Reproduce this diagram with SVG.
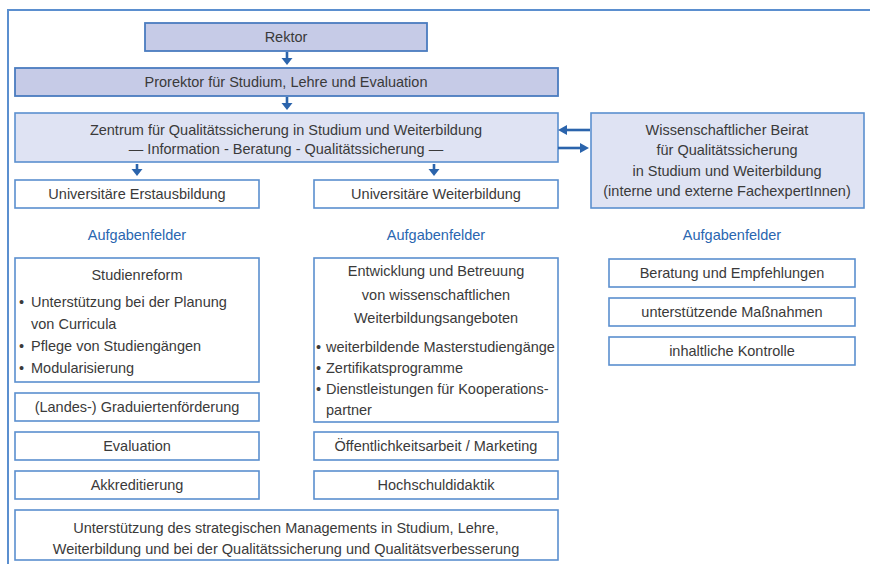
<svg xmlns="http://www.w3.org/2000/svg" width="870" height="564" viewBox="0 0 870 564">
<defs>
<style>
text{font-family:"Liberation Sans",Arial,sans-serif;font-size:14.5px;fill:#3a3a3a}
.c{text-anchor:middle}
.h{fill:#2a66b0}
.box{fill:#fff;stroke:#5b8fcf;stroke-width:1.6}
.b1{fill:#c6cbe7;stroke:#4a7cbf;stroke-width:1.8}
.b2{fill:#dfe3f3;stroke:#5b8fcf;stroke-width:1.6}
.ln{stroke:#2b64ac;stroke-width:2.6;fill:none}
.hd{fill:#2b64ac}
</style>
</defs>
<rect width="870" height="564" fill="#fff"/>
<path d="M8,564 V10 H870" fill="none" stroke="#5b8fcf" stroke-width="2"/>

<g id="rektor"><rect class="b1" x="145" y="23" width="282" height="28"/><text class="c" x="286" y="42">Rektor</text></g>
<g id="prorektor"><rect class="b1" x="15" y="68" width="543" height="28"/><text class="c" x="286" y="87">Prorektor für Studium, Lehre und Evaluation</text></g>
<g id="zentrum"><rect class="b2" x="15" y="113" width="543" height="49"/><text class="c" x="286" y="135">Zentrum für Qualitätssicherung in Studium und Weiterbildung</text><text class="c" x="286" y="154">— Information - Beratung - Qualitätssicherung —</text></g>
<g id="beirat"><rect class="b2" x="591" y="113" width="273" height="95"/>
<text class="c" x="727" y="135">Wissenschaftlicher Beirat</text>
<text class="c" x="727" y="155">für Qualitätssicherung</text>
<text class="c" x="727" y="176">in Studium und Weiterbildung</text>
<text class="c" x="727" y="196">(interne und externe FachexpertInnen)</text></g>

<g id="erstausbildung"><rect class="box" x="15" y="180" width="244" height="28"/><text class="c" x="137" y="199">Universitäre Erstausbildung</text></g>
<g id="weiterbildung"><rect class="box" x="314" y="180" width="244" height="28"/><text class="c" x="436" y="199">Universitäre Weiterbildung</text></g>

<g id="aufgaben-labels">
<text class="c h" x="137" y="240">Aufgabenfelder</text>
<text class="c h" x="436" y="240">Aufgabenfelder</text>
<text class="c h" x="732" y="240">Aufgabenfelder</text>
</g>

<g id="studienreform"><rect class="box" x="15" y="258" width="244" height="124"/>
<text class="c" x="137" y="280">Studienreform</text>
<text x="19" y="307">•</text><text x="31" y="307">Unterstützung bei der Planung</text>
<text x="31" y="329">von Curricula</text>
<text x="19" y="351">•</text><text x="31" y="351">Pflege von Studiengängen</text>
<text x="19" y="373">•</text><text x="31" y="373">Modularisierung</text></g>
<g id="graduierten"><rect class="box" x="15" y="393" width="244" height="28"/><text class="c" x="137" y="412">(Landes-) Graduiertenförderung</text></g>
<g id="evaluation"><rect class="box" x="15" y="432" width="244" height="28"/><text class="c" x="137" y="451">Evaluation</text></g>
<g id="akkreditierung"><rect class="box" x="15" y="471" width="244" height="28"/><text class="c" x="137" y="490">Akkreditierung</text></g>

<g id="entwicklung"><rect class="box" x="314" y="258" width="244" height="164"/>
<text class="c" x="436" y="276">Entwicklung und Betreuung</text>
<text class="c" x="436" y="300">von wissenschaftlichen</text>
<text class="c" x="436" y="323">Weiterbildungsangeboten</text>
<text x="316" y="352">•</text><text x="326" y="352">weiterbildende Masterstudiengänge</text>
<text x="316" y="373">•</text><text x="326" y="373">Zertifikatsprogramme</text>
<text x="316" y="394">•</text><text x="326" y="394">Dienstleistungen für Kooperations-</text>
<text x="326" y="415">partner</text></g>
<g id="oeffentlichkeit"><rect class="box" x="314" y="432" width="244" height="28"/><text class="c" x="436" y="451">Öffentlichkeitsarbeit / Marketing</text></g>
<g id="hochschuldidaktik"><rect class="box" x="314" y="471" width="244" height="28"/><text class="c" x="436" y="490">Hochschuldidaktik</text></g>

<g id="strategie"><rect class="box" x="15" y="510" width="543" height="50"/>
<text class="c" x="286" y="533">Unterstützung des strategischen Managements in Studium, Lehre,</text>
<text class="c" x="286" y="554">Weiterbildung und bei der Qualitätssicherung und Qualitätsverbesserung</text></g>

<g id="beratung"><rect class="box" x="609" y="259" width="246" height="28"/><text class="c" x="732" y="278">Beratung und Empfehlungen</text></g>
<g id="massnahmen"><rect class="box" x="609" y="298" width="246" height="28"/><text class="c" x="732" y="317">unterstützende Maßnahmen</text></g>
<g id="kontrolle"><rect class="box" x="609" y="337" width="246" height="28"/><text class="c" x="732" y="356">inhaltliche Kontrolle</text></g>

<g id="connectors">
<line class="ln" x1="287" y1="52" x2="287" y2="59"/><path class="hd" d="M281.5,58 H292.5 L287,65 z"/>
<line class="ln" x1="287" y1="97" x2="287" y2="104"/><path class="hd" d="M281.5,103 H292.5 L287,110 z"/>
<line class="ln" x1="137" y1="164" x2="137" y2="170"/><path class="hd" d="M131.5,169 H142.5 L137,176 z"/>
<line class="ln" x1="434" y1="164" x2="434" y2="170"/><path class="hd" d="M428.5,169 H439.5 L434,176 z"/>
<line class="ln" x1="590" y1="130" x2="566" y2="130"/><path class="hd" d="M567,125 V135 L558,130 z"/>
<line class="ln" x1="558" y1="148" x2="581" y2="148"/><path class="hd" d="M580,143 V153 L589,148 z"/>
</g>
</svg>
